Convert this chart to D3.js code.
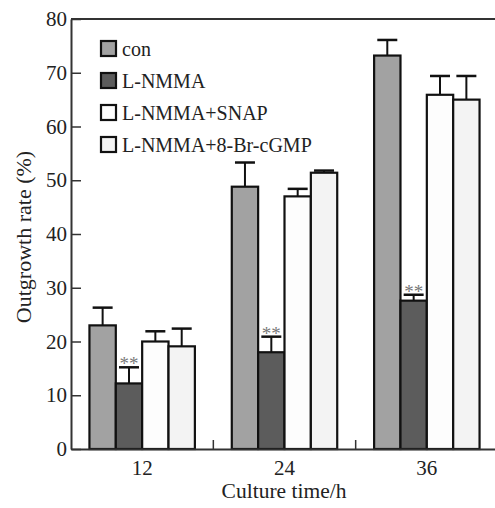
<!DOCTYPE html>
<html>
<head>
<meta charset="utf-8">
<script src="https://cdn.jsdelivr.net/npm/d3@7"></script>
<style>
  body { margin: 0; background: #fff; }
  text { font-family: "Liberation Serif", "Times New Roman", serif; }
</style>
</head>
<body>
<div id="chart"></div>
<script>
var times = ["12", "24", "36"];
var seriesNames = ["con", "L-NMMA", "L-NMMA+SNAP", "L-NMMA+8-Br-cGMP"];
var seriesColors = ["#a2a2a2", "#5c5c5c", "#fdfdfd", "#f3f3f3"];
// mean values per series, one per time point
var con = [23.0, 48.8, 73.2];
var lnmma = [12.2, 18.0, 27.6];
var snap = [20.0, 47.0, 65.9];
var brcgmp = [19.1, 51.4, 65.0];
// upper error bar ends
var conErr = [26.3, 53.3, 76.1];
var lnmmaErr = [15.2, 20.9, 28.7];
var snapErr = [21.9, 48.4, 69.4];
var brcgmpErr = [22.4, 51.8, 69.4];
var yTicks = [0, 10, 20, 30, 40, 50, 60, 70, 80];
var starMark = "**";

var values = [con, lnmma, snap, brcgmp];
var errs = [conErr, lnmmaErr, snapErr, brcgmpErr];

var width = 495,
    height = 508,
    margin = {top: 19, right: -3, bottom: 59, left: 71};

var svg = d3.select("#chart").append("svg")
    .attr("width", width)
    .attr("height", height);

var x0 = d3.scaleBand()
    .domain(times)
    .range([margin.left, width - margin.right])
    .paddingInner(0)
    .paddingOuter(0);

var x1 = d3.scaleBand()
    .domain(d3.range(seriesNames.length))
    .range([0, x0.bandwidth()])
    .paddingOuter(0.7)
    .paddingInner(0);

var y = d3.scaleLinear()
    .domain([0, 80])
    .range([height - margin.bottom, margin.top]);

var data = [];
times.forEach(function (t, i) {
  seriesNames.forEach(function (s, j) {
    data.push({time: t, s: j, value: values[j][i], err: errs[j][i]});
  });
});

// top frame line
svg.append("line")
    .attr("x1", margin.left).attr("x2", width)
    .attr("y1", y(80)).attr("y2", y(80))
    .attr("stroke", "#333").attr("stroke-width", 2);

var bars = svg.append("g");

// error bars (drawn first so bar outlines sit on top)
bars.selectAll(".err")
    .data(data)
    .enter().append("g")
    .attr("class", "err")
    .each(function (d) {
      var cx = x0(d.time) + x1(d.s) + x1.bandwidth() / 2;
      var g = d3.select(this);
      g.append("line")
          .attr("x1", cx).attr("x2", cx)
          .attr("y1", y(d.value)).attr("y2", y(d.err))
          .attr("stroke", "#111").attr("stroke-width", 2);
      g.append("line")
          .attr("x1", cx - 10).attr("x2", cx + 10)
          .attr("y1", y(d.err)).attr("y2", y(d.err))
          .attr("stroke", "#111").attr("stroke-width", 2.5);
    });

bars.selectAll("rect")
    .data(data)
    .enter().append("rect")
    .attr("x", function (d) { return x0(d.time) + x1(d.s); })
    .attr("y", function (d) { return y(d.value); })
    .attr("width", x1.bandwidth())
    .attr("height", function (d) { return y(0) - y(d.value); })
    .attr("fill", function (d) { return seriesColors[d.s]; })
    .attr("stroke", "#111")
    .attr("stroke-width", 2.2);

// significance marks over L-NMMA
bars.selectAll(".star")
    .data(data.filter(function (d) { return d.s === 1; }))
    .enter().append("text")
    .attr("class", "star")
    .attr("x", function (d) { return x0(d.time) + x1(d.s) + x1.bandwidth() / 2; })
    .attr("y", function (d) { return y(d.err) + 3; })
    .attr("text-anchor", "middle")
    .attr("font-size", 19)
    .attr("fill", "#777")
    .text(starMark);

// y axis
var yAxis = svg.append("g")
    .attr("transform", "translate(" + margin.left + ",0)")
    .call(d3.axisLeft(y).tickValues(yTicks).tickSizeInner(-10).tickSizeOuter(0).tickPadding(4));
yAxis.select(".domain").attr("stroke", "#333").attr("stroke-width", 2);
yAxis.selectAll(".tick line").attr("stroke", "#333").attr("stroke-width", 1.5);
yAxis.selectAll(".tick text")
    .attr("font-size", 21)
    .attr("fill", "#222")
    .attr("font-family", "Liberation Serif");

// x axis
var xAxis = svg.append("g")
    .attr("transform", "translate(0," + y(0) + ")")
    .call(d3.axisBottom(x0).tickSize(0).tickPadding(11));
xAxis.select(".domain").attr("stroke", "#333").attr("stroke-width", 2);
xAxis.selectAll(".tick text")
    .attr("font-size", 21)
    .attr("fill", "#222")
    .attr("font-family", "Liberation Serif");

// group separators on the x axis
svg.append("g").selectAll("line")
    .data(times.slice(1))
    .enter().append("line")
    .attr("x1", function (t) { return x0(t); })
    .attr("x2", function (t) { return x0(t); })
    .attr("y1", y(0)).attr("y2", y(0) - 9)
    .attr("stroke", "#333").attr("stroke-width", 1.5);

// axis titles
svg.append("text")
    .attr("x", 284).attr("y", 498)
    .attr("text-anchor", "middle")
    .attr("font-size", 21.5)
    .attr("fill", "#222")
    .text("Culture time/h");

svg.append("text")
    .attr("transform", "translate(31," + 237 + ") rotate(-90)")
    .attr("text-anchor", "middle")
    .attr("font-size", 22)
    .attr("fill", "#222")
    .text("Outgrowth rate (%)");

// legend
var legend = svg.append("g").selectAll("g")
    .data(seriesNames)
    .enter().append("g")
    .attr("transform", function (d, i) { return "translate(100," + (40 + i * 32) + ")"; });
legend.append("rect")
    .attr("x", 1).attr("y", 1)
    .attr("width", 15).attr("height", 15)
    .attr("fill", function (d, i) { return seriesColors[i]; })
    .attr("stroke", "#111").attr("stroke-width", 2.2);
legend.append("text")
    .attr("x", 22).attr("y", 16)
    .attr("font-size", 20)
    .attr("fill", "#222")
    .text(function (d) { return d; });
</script>
</body>
</html>
